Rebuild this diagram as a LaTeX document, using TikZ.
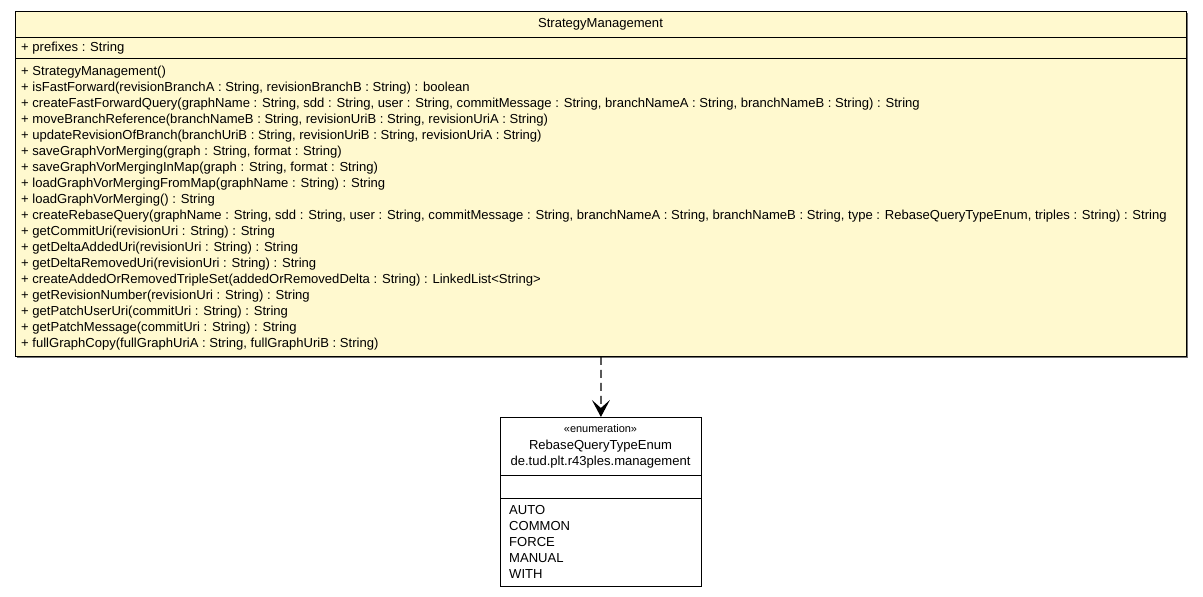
\documentclass[tikz,border=0pt]{standalone}
\usepackage{fontspec}
\setmainfont{Liberation Sans}
\usetikzlibrary{arrows.meta}
\definecolor{classfill}{HTML}{FFF9CF}
\tikzset{
  txt/.style={font=\fontsize{13.1}{16}\selectfont, inner sep=0pt},
  mline/.style={txt, anchor=base west},
  classbox/.style={draw=black, line width=0.8bp, fill=classfill, inner sep=0pt, anchor=north west},
  enumbox/.style={draw=black, line width=0.8bp, fill=white, inner sep=0pt, anchor=north west},
  sep/.style={draw=black, line width=0.8bp},
  dep/.style={draw=black, line width=1.2bp, dash pattern=on 8bp off 5bp, -{Stealth[length=17bp,width=18bp,inset=8bp]}}
}
\begin{document}
\begin{tikzpicture}[x=1bp,y=-1bp]
\useasboundingbox (0,0) rectangle (1203,597);
\fill[black!55] (17,13) rectangle (1188,358);
\node[classbox, minimum width=1171bp, minimum height=345bp] (sm) at (15,11) {};
\draw[sep] (15,37) -- (1186,37);
\draw[sep] (15,58) -- (1186,58);
\node[txt] (smtitle) at (600.5,24) {StrategyManagement};
\node[mline] (a1) at (21,52) {+ prefixes : String};
\node[mline] (m1) at (21,76) {+ StrategyManagement()};
\node[mline] (m2) at (21,92) {+ isFastForward(revisionBranchA : String, revisionBranchB : String) : boolean};
\node[mline] (m3) at (21,108) {+ createFastForwardQuery(graphName : String, sdd : String, user : String, commitMessage : String, branchNameA : String, branchNameB : String) : String};
\node[mline] (m4) at (21,124) {+ moveBranchReference(branchNameB : String, revisionUriB : String, revisionUriA : String)};
\node[mline] (m5) at (21,140) {+ updateRevisionOfBranch(branchUriB : String, revisionUriB : String, revisionUriA : String)};
\node[mline] (m6) at (21,156) {+ saveGraphVorMerging(graph : String, format : String)};
\node[mline] (m7) at (21,172) {+ saveGraphVorMergingInMap(graph : String, format : String)};
\node[mline] (m8) at (21,188) {+ loadGraphVorMergingFromMap(graphName : String) : String};
\node[mline] (m9) at (21,204) {+ loadGraphVorMerging() : String};
\node[mline] (m10) at (21,220) {+ createRebaseQuery(graphName : String, sdd : String, user : String, commitMessage : String, branchNameA : String, branchNameB : String, type : RebaseQueryTypeEnum, triples : String) : String};
\node[mline] (m11) at (21,236) {+ getCommitUri(revisionUri : String) : String};
\node[mline] (m12) at (21,252) {+ getDeltaAddedUri(revisionUri : String) : String};
\node[mline] (m13) at (21,268) {+ getDeltaRemovedUri(revisionUri : String) : String};
\node[mline] (m14) at (21,284) {+ createAddedOrRemovedTripleSet(addedOrRemovedDelta : String) : LinkedList<String>};
\node[mline] (m15) at (21,300) {+ getRevisionNumber(revisionUri : String) : String};
\node[mline] (m16) at (21,316) {+ getPatchUserUri(commitUri : String) : String};
\node[mline] (m17) at (21,332) {+ getPatchMessage(commitUri : String) : String};
\node[mline] (m18) at (21,348) {+ fullGraphCopy(fullGraphUriA : String, fullGraphUriB : String)};
%
\node[enumbox, minimum width=201bp, minimum height=169bp] (en) at (500,417) {};
\draw[sep] (500,475) -- (701,475);
\draw[sep] (500,498) -- (701,498);
\node[txt, font=\fontsize{11}{13}\selectfont] (st) at (600.5,429) {«enumeration»};
\node[txt] (enname) at (600.5,446) {RebaseQueryTypeEnum};
\node[txt] (enpkg) at (600.5,462) {de.tud.plt.r43ples.management};
\node[mline] (e1) at (509,514) {AUTO};
\node[mline] (e2) at (509,530) {COMMON};
\node[mline] (e3) at (509,546) {FORCE};
\node[mline] (e4) at (509,562) {MANUAL};
\node[mline] (e5) at (509,578) {WITH};
%
\draw[dep] (sm.south) -- (en.north);
\end{tikzpicture}
\end{document}
